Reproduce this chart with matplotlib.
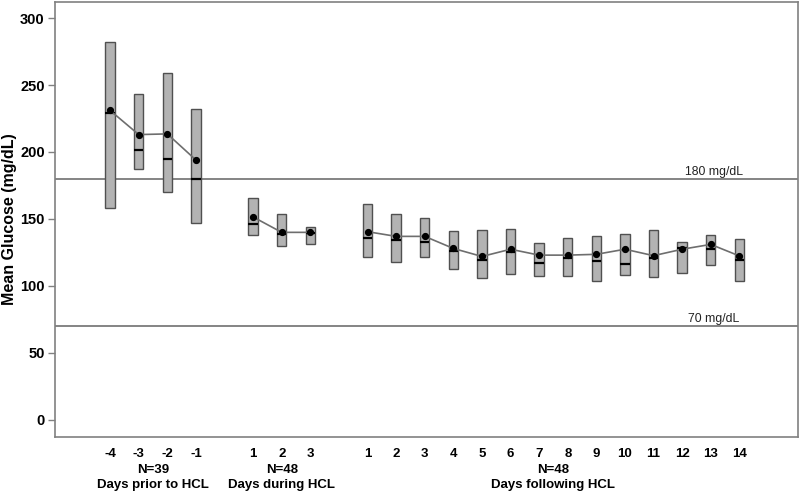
import matplotlib
matplotlib.use("Agg")
import matplotlib.pyplot as plt
import numpy as np
from matplotlib import transforms

plt.rcParams['font.family'] = ['Liberation Sans', 'DejaVu Sans']

# groups of days
group_names = ['Days prior to HCL', 'Days during HCL', 'Days following HCL']
group_n = ['N=39', 'N=48', 'N=48']
day_labels = [
    ['-4', '-3', '-2', '-1'],
    ['1', '2', '3'],
    [str(d) for d in range(1, 15)],
]

# box top / bottom, mean and median glucose (mg/dL)
box_top = [
    [282, 243, 259, 232],
    [166, 153.5, 144],
    [161, 153.5, 151, 141, 142, 142.5, 132, 136, 137, 139, 142, 132.6, 138, 135],
]
box_bottom = [
    [158, 187, 170, 147],
    [138, 129.5, 131],
    [121.5, 118, 121.5, 113, 105.7, 109, 107.5, 107.5, 104, 108, 107, 110, 116, 104],
]
means = [
    [231, 213, 213.5, 194],
    [151.5, 140, 140],
    [140.5, 137, 137, 128, 122, 127.4, 123, 123, 123.6, 127.4, 122.6, 127.4, 131, 122.4],
]
medians = [
    [229, 201.5, 195, 179.6],
    [146, 139, 139.5],
    [135.6, 134, 132.5, 126, 119, 125.6, 117.4, 120.6, 118.9, 116.4, 120.6, 128, 127.6, 119],
]

thresholds = [180, 70]
threshold_labels = ['180 mg/dL', '70 mg/dL']

fig = plt.figure(figsize=(8, 4.92), dpi=100)
ax = fig.add_axes([0.069, 0.112, 0.9285, 0.884])

box_w = 0.33
positions = []
start = 0
for g in range(len(day_labels)):
    n = len(day_labels[g])
    x = np.arange(start, start + n)
    positions.append(x)
    start += n + 1

for g in range(len(day_labels)):
    x = positions[g]
    top = np.array(box_top[g])
    bot = np.array(box_bottom[g])
    ax.bar(x, top - bot, bottom=bot, width=box_w, color='#b3b3b3',
           edgecolor='#505050', linewidth=1.0, zorder=2)
    ax.hlines(medians[g], x - box_w / 2, x + box_w / 2, color='black',
              linewidth=1.6, zorder=3)
    ax.plot(x, means[g], color='#6e6e6e', linewidth=1.2, zorder=4)
    ax.plot(x, means[g], 'o', color='black', markersize=4.2, zorder=5)

for t, lab in zip(thresholds, threshold_labels):
    ax.axhline(t, color='#707070', linewidth=1.2, zorder=1)
    ax.text(21.1, t + 0.8, lab, ha='center', va='bottom', fontsize=8.8,
            color='#222222')

ax.set_xlim(-1.92, 24.05)
ax.set_ylim(-12.7, 312)
ax.set_yticks([0, 50, 100, 150, 200, 250, 300])
ax.tick_params(axis='y', direction='out', length=5, width=1, color='#808080',
               labelsize=10.5, pad=2.5)
for lab in ax.get_yticklabels():
    lab.set_fontweight('bold')

all_pos = np.concatenate(positions)
all_labels = sum(day_labels, [])
ax.set_xticks(all_pos, all_labels)
ax.tick_params(axis='x', length=0, pad=8, labelsize=9.5)
for lab in ax.get_xticklabels():
    lab.set_fontweight('bold')

ax.set_ylabel('Mean Glucose (mg/dL)', fontsize=11.5, fontweight='bold')
ax.yaxis.set_label_coords(-0.051, 0.5)

trans = transforms.blended_transform_factory(ax.transData, fig.transFigure)
for g in range(len(day_labels)):
    cx = positions[g].mean()
    ax.text(cx, (492 - 470) / 492, group_n[g], ha='center', va='center',
            fontsize=9.5, fontweight='bold', transform=trans)
    ax.text(cx, (492 - 485) / 492, group_names[g], ha='center', va='center',
            fontsize=9.5, fontweight='bold', transform=trans)

for s in ax.spines.values():
    s.set_color('#808080')
    s.set_linewidth(1.2)

fig.savefig('out.png', dpi=100)
